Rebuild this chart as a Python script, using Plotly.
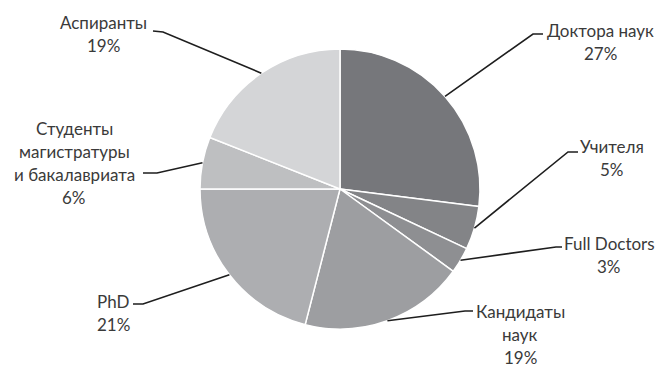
import math
import plotly.graph_objects as go

# ---- data ----
categories = ["Доктора наук", "Учителя", "Full Doctors", "Кандидаты наук",
              "PhD", "Студенты магистратуры и бакалавриата", "Аспиранты"]
values = [27, 5, 3, 19, 21, 6, 19]
label_lines = [["Доктора наук"], ["Учителя"], ["Full Doctors"], ["Кандидаты", "наук"],
               ["PhD"], ["Студенты", "магистратуры", "и бакалавриата"], ["Аспиранты"]]

# ---- style / layout ----
colors = ["#76777b", "#838487", "#8e8f92", "#9d9ea1", "#adaeb1", "#bebfc1", "#d4d5d7"]
W, H = 660, 368
CX, CY, R = 340, 189, 140
# per label: elbow point, end of horizontal segment, text centre x, first-line centre y (px)
label_layout = [
    dict(elbow=(533, 34), end=(543, 34), tx=600, ty=30),
    dict(elbow=(568, 152), end=(578, 152), tx=612, ty=147),
    dict(elbow=(556, 247), end=(562, 247), tx=609, ty=243),
    dict(elbow=(465, 311), end=(473, 311), tx=520, ty=311),
    dict(elbow=(143, 304), end=(133, 304), tx=113, ty=301),
    dict(elbow=(157, 173), end=(143, 173), tx=74, ty=128),
    dict(elbow=(163, 32), end=(153, 31), tx=103, ty=22),
]
LINE_GAP = 23
FONT = dict(family="Lato, Carlito, Calibri, sans-serif", size=17, color="#3a3a3a")


def px(x, y):
    return x / W, 1 - y / H


fig = go.Figure(go.Pie(
    labels=categories, values=values, sort=False, direction="clockwise",
    rotation=0, textinfo="none", hoverinfo="label+percent",
    marker=dict(colors=colors, line=dict(color="white", width=1.5)),
    domain=dict(x=[(CX - R) / W, (CX + R) / W], y=[1 - (CY + R) / H, 1 - (CY - R) / H]),
    showlegend=False,
))

total = sum(values)
shapes, annotations = [], []
cum = 0
for v, lines, lay in zip(values, label_lines, label_layout):
    mid = (cum + v / 2) / total * 2 * math.pi
    cum += v
    ex, ey = CX + R * math.sin(mid), CY - R * math.cos(mid)
    pts = [px(ex, ey), px(*lay["elbow"]), px(*lay["end"])]
    path = "M {} {} L {} {} L {} {}".format(*[c for p in pts for c in p])
    shapes.append(dict(type="path", path=path, xref="paper", yref="paper",
                       line=dict(color="#1e1e1e", width=1.6)))
    pct = f"{round(v / total * 100)}%"
    for i, t in enumerate(lines + [pct]):
        x, y = px(lay["tx"], lay["ty"] + i * LINE_GAP)
        annotations.append(dict(text=t, x=x, y=y, xref="paper", yref="paper",
                                xanchor="center", yanchor="middle", showarrow=False,
                                font=FONT))

fig.update_layout(
    width=W, height=H, margin=dict(l=0, r=0, t=0, b=0),
    paper_bgcolor="white", plot_bgcolor="white",
    shapes=shapes, annotations=annotations,
)
fig.write_html("out.html")
